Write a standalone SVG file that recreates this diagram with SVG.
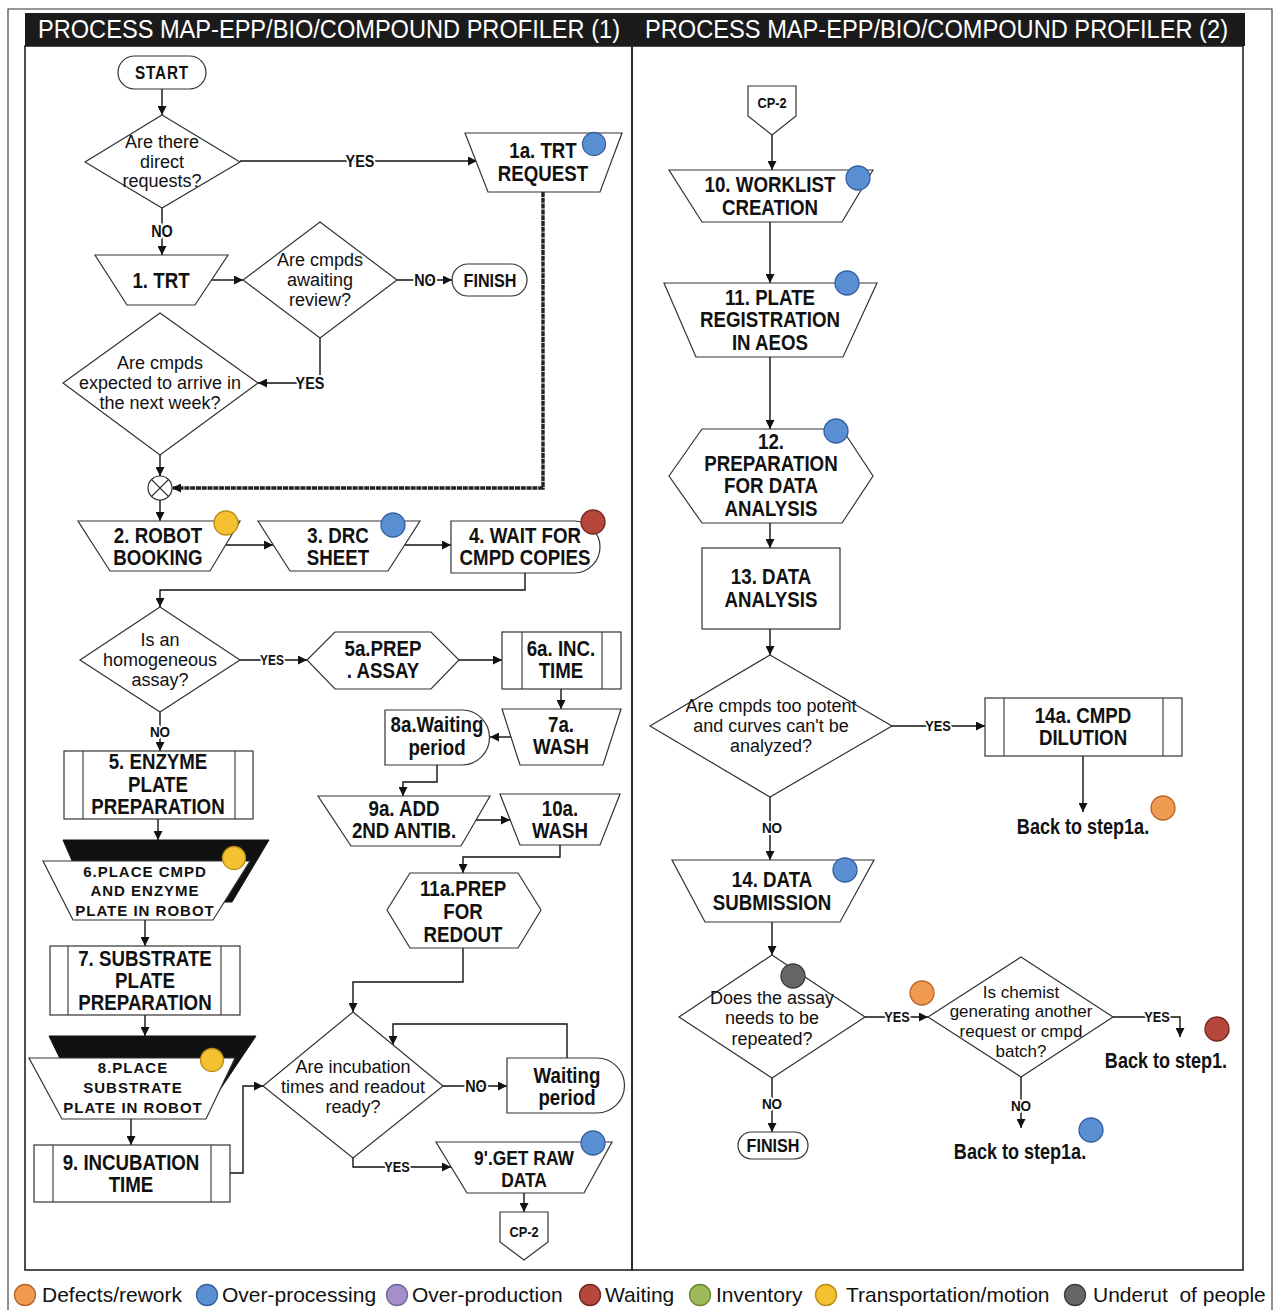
<svg xmlns="http://www.w3.org/2000/svg" width="1275" height="1310" viewBox="0 0 1275 1310">
<defs>
  <marker id="ah" viewBox="0 0 10 10" refX="10" refY="5" markerWidth="10" markerHeight="9" markerUnits="userSpaceOnUse" orient="auto">
    <path d="M0,0 L10,5 L0,10 Z" fill="#111"/>
  </marker>
  <style>
    .frame{fill:none;stroke:#222;stroke-width:1.6}
    .sh{fill:#fff;stroke:#333;stroke-width:1.2}
    .blk{fill:#111;stroke:#111;stroke-width:1}
    .ln{fill:none;stroke:#333;stroke-width:1.1}
    .c{fill:none;stroke:#111;stroke-width:1.4;marker-end:url(#ah)}
    .thick{fill:none;stroke:#222;stroke-width:3.4;stroke-dasharray:5 0.8;marker-end:url(#ah)}
    .hd{font-family:"Liberation Sans",Arial,sans-serif;font-size:25px;fill:#fff}
    .t{font-family:"Liberation Sans",Arial,sans-serif;font-weight:bold;font-size:22px;text-anchor:middle;fill:#111}
    .m{font-family:"Liberation Sans",Arial,sans-serif;font-weight:bold;font-size:15px;letter-spacing:1px;text-anchor:middle;fill:#111}
    .q{font-family:"Liberation Sans",Arial,sans-serif;font-size:18px;text-anchor:middle;fill:#111}
    .lb{font-family:"Liberation Sans",Arial,sans-serif;font-weight:bold;font-size:16px;text-anchor:middle;fill:#111;stroke:#fff;stroke-width:4px;paint-order:stroke;stroke-linejoin:round}
    .cp{font-family:"Liberation Sans",Arial,sans-serif;font-weight:bold;font-size:15px;text-anchor:middle;fill:#111}
    .lg{font-family:"Liberation Sans",Arial,sans-serif;font-size:21px;fill:#111}
    .blue{fill:#5b8fd4;stroke:#34609f;stroke-width:1.3}
    .orange{fill:#ef9a4e;stroke:#b8632a;stroke-width:1.3}
    .yellow{fill:#f4c230;stroke:#b88a10;stroke-width:1.3}
    .red{fill:#b5473c;stroke:#74271f;stroke-width:1.3}
    .gray{fill:#666;stroke:#3d3d3d;stroke-width:1.3}
    .purple{fill:#a58fca;stroke:#74659a;stroke-width:1.3}
    .green{fill:#9cba5a;stroke:#6a8731;stroke-width:1.3}
  </style>
</defs>

<rect width="1275" height="1310" fill="#fff"/>

<!-- outer sheet border and the two panels -->
<g id="frame">
  <path class="ln" d="M8,1310 V9 H1272 V1310" stroke-width="1.3"/>
  <rect x="25" y="13" width="1220" height="33" fill="#1b1b1b"/>
  <text class="hd" x="38" y="38" textLength="582" lengthAdjust="spacingAndGlyphs">PROCESS MAP-EPP/BIO/COMPOUND PROFILER (1)</text>
  <text class="hd" x="645" y="38" textLength="583" lengthAdjust="spacingAndGlyphs">PROCESS MAP-EPP/BIO/COMPOUND PROFILER (2)</text>
  <rect class="frame" x="25" y="46" width="607" height="1224"/>
  <rect class="frame" x="632" y="46" width="611" height="1224"/>
</g>

<!-- connectors -->
<g id="connectors">
  <path class="c" d="M162,89 V115"/>
  <path class="c" d="M240,161 H477"/>
  <path class="c" d="M162,208 V255"/>
  <path class="c" d="M211,280 H243"/>
  <path class="c" d="M397,280 H452"/>
  <path class="c" d="M320,338 V383 H258"/>
  <path class="c" d="M160,455 V476"/>
  <path class="thick" d="M543,192 V488 H172"/>
  <path class="c" d="M160,500 V521"/>
  <path class="c" d="M223,545 H273"/>
  <path class="c" d="M404,545 H451"/>
  <path class="c" d="M525,573 V590 H160 V607"/>
  <path class="c" d="M240,660 H307"/>
  <path class="c" d="M459,660 H502"/>
  <path class="c" d="M561,689 V709"/>
  <path class="c" d="M511,737 H490"/>
  <path class="c" d="M437,765 V782 H403 V796"/>
  <path class="c" d="M475,820 H510"/>
  <path class="c" d="M560,845 V857 H463 V873"/>
  <path class="c" d="M160,712 V751"/>
  <path class="c" d="M158,819 V840"/>
  <path class="c" d="M145,920 V946"/>
  <path class="c" d="M145,1015 V1036"/>
  <path class="c" d="M131,1119 V1145"/>
  <path class="c" d="M230,1173 H243 V1086 H263"/>
  <path class="c" d="M463,948 V982 H353 V1012"/>
  <path class="c" d="M443,1086 H507"/>
  <path class="c" d="M567,1058 V1024 H393 V1045"/>
  <path class="c" d="M353,1158 V1167 H451"/>
  <path class="c" d="M524,1193 V1212"/>

  <path class="c" d="M772,135 V170"/>
  <path class="c" d="M770,222 V283"/>
  <path class="c" d="M770,357 V429"/>
  <path class="c" d="M770,523 V548"/>
  <path class="c" d="M770,629 V655"/>
  <path class="c" d="M892,726 H985"/>
  <path class="c" d="M1083,756 V812"/>
  <path class="c" d="M770,797 V860"/>
  <path class="c" d="M772,922 V955"/>
  <path class="c" d="M865,1017 H928"/>
  <path class="c" d="M1113,1017 H1180 V1037"/>
  <path class="c" d="M1021,1077 V1128"/>
  <path class="c" d="M772,1078 V1132"/>

  <!-- branch labels -->
  <text class="lb" transform="translate(360,0) scale(.9,1)" y="167">YES</text>
  <text class="lb" transform="translate(162,0) scale(.9,1)" y="237">NO</text>
  <text class="lb" transform="translate(425,0) scale(.9,1)" y="286">NO</text>
  <text class="lb" transform="translate(310,0) scale(.9,1)" y="389">YES</text>
  <text class="lb" transform="translate(272,0) scale(.85,1)" y="665" style="font-size:14px">YES</text>
  <text class="lb" transform="translate(160,0) scale(.9,1)" y="737" style="font-size:15px">NO</text>
  <text class="lb" transform="translate(476,0) scale(.9,1)" y="1092">NO</text>
  <text class="lb" transform="translate(397,0) scale(.85,1)" y="1172" style="font-size:15px">YES</text>
  <text class="lb" transform="translate(938,0) scale(.85,1)" y="731" style="font-size:15px">YES</text>
  <text class="lb" transform="translate(772,0) scale(.9,1)" y="833" style="font-size:15px">NO</text>
  <text class="lb" transform="translate(897,0) scale(.85,1)" y="1022" style="font-size:15px">YES</text>
  <text class="lb" transform="translate(1157,0) scale(.85,1)" y="1022" style="font-size:15px">YES</text>
  <text class="lb" transform="translate(1021,0) scale(.9,1)" y="1111" style="font-size:15px">NO</text>
  <text class="lb" transform="translate(772,0) scale(.9,1)" y="1109" style="font-size:15px">NO</text>
</g>

<!-- panel 1 -->
<g id="start">
  <rect class="sh" x="118" y="56" width="88" height="33" rx="16.5"/>
  <text class="t" transform="translate(162,0) scale(.85,1)" y="79" style="font-size:18px;letter-spacing:1px">START</text>
</g>
<g id="q-direct">
  <polygon class="sh" points="162,115 240,162 162,208 85,162"/>
  <text class="q"><tspan x="162" y="148">Are there</tspan><tspan x="162" y="168">direct</tspan><tspan x="162" y="187">requests?</tspan></text>
</g>
<g id="n1a">
  <polygon class="sh" points="465,133 622,133 600,192 488,192"/>
  <text class="t" transform="translate(543,0) scale(.85,1)"><tspan x="0" y="158">1a. TRT</tspan><tspan x="0" y="181">REQUEST</tspan></text>
  <circle class="blue" cx="594" cy="144" r="11.5"/>
</g>
<g id="n1">
  <polygon class="sh" points="95,255 228,255 195,305 127,305"/>
  <text class="t" transform="translate(161,0) scale(.85,1)" y="288">1. TRT</text>
</g>
<g id="q-awaiting">
  <polygon class="sh" points="320,222 397,280 320,338 243,280"/>
  <text class="q"><tspan x="320" y="266">Are cmpds</tspan><tspan x="320" y="286">awaiting</tspan><tspan x="320" y="306">review?</tspan></text>
</g>
<g id="finish1">
  <rect class="sh" x="452" y="264" width="75" height="32" rx="16"/>
  <text class="t" transform="translate(490,0) scale(.85,1)" y="287" style="font-size:19px">FINISH</text>
</g>
<g id="q-expected">
  <polygon class="sh" points="160,313 258,383 160,455 63,383"/>
  <text class="q"><tspan x="160" y="369">Are cmpds</tspan><tspan x="160" y="389">expected to arrive in</tspan><tspan x="160" y="409">the next week?</tspan></text>
</g>
<g id="merge">
  <circle class="sh" cx="160" cy="488" r="12"/>
  <path class="ln" d="M151.5,479.5 L168.5,496.5 M168.5,479.5 L151.5,496.5"/>
</g>
<g id="n2">
  <polygon class="sh" points="78,521 240,521 210,571 110,571"/>
  <text class="t" transform="translate(158,0) scale(.85,1)"><tspan x="0" y="543">2. ROBOT</tspan><tspan x="0" y="565">BOOKING</tspan></text>
  <circle class="yellow" cx="226" cy="523" r="12"/>
</g>
<g id="n3">
  <polygon class="sh" points="258,521 420,521 388,571 290,571"/>
  <text class="t" transform="translate(338,0) scale(.85,1)"><tspan x="0" y="543">3. DRC</tspan><tspan x="0" y="565">SHEET</tspan></text>
  <circle class="blue" cx="393" cy="525" r="12"/>
</g>
<g id="n4">
  <path class="sh" d="M451,521 H574 A26,26 0 0 1 574,573 H451 Z"/>
  <text class="t" transform="translate(525,0) scale(.85,1)"><tspan x="0" y="543">4. WAIT FOR</tspan><tspan x="0" y="565">CMPD COPIES</tspan></text>
  <circle class="red" cx="593" cy="522" r="12"/>
</g>
<g id="q-homogeneous">
  <polygon class="sh" points="160,607 240,660 160,712 80,660"/>
  <text class="q"><tspan x="160" y="646">Is an</tspan><tspan x="160" y="666">homogeneous</tspan><tspan x="160" y="686">assay?</tspan></text>
</g>
<g id="n5a">
  <polygon class="sh" points="307,660 335,632 431,632 459,660 431,689 335,689"/>
  <text class="t" transform="translate(383,0) scale(.85,1)"><tspan x="0" y="656">5a.PREP</tspan><tspan x="0" y="678">. ASSAY</tspan></text>
</g>
<g id="n6a">
  <rect class="sh" x="502" y="632" width="119" height="57"/>
  <path class="ln" d="M522,632 V689 M602,632 V689"/>
  <text class="t" transform="translate(561,0) scale(.85,1)"><tspan x="0" y="656">6a. INC.</tspan><tspan x="0" y="678">TIME</tspan></text>
</g>
<g id="n7a">
  <polygon class="sh" points="502,709 621,709 603,765 520,765"/>
  <text class="t" transform="translate(561,0) scale(.85,1)"><tspan x="0" y="732">7a.</tspan><tspan x="0" y="754">WASH</tspan></text>
</g>
<g id="n8a">
  <path class="sh" d="M385,710 H462 A27.5,27.5 0 0 1 462,765 H385 Z"/>
  <text class="t" transform="translate(437,0) scale(.85,1)"><tspan x="0" y="732">8a.Waiting</tspan><tspan x="0" y="755">period</tspan></text>
</g>
<g id="n9a">
  <polygon class="sh" points="318,796 490,796 461,846 351,846"/>
  <text class="t" transform="translate(404,0) scale(.85,1)"><tspan x="0" y="816">9a. ADD</tspan><tspan x="0" y="838">2ND ANTIB.</tspan></text>
</g>
<g id="n10a">
  <polygon class="sh" points="500,794 620,794 600,845 520,845"/>
  <text class="t" transform="translate(560,0) scale(.85,1)"><tspan x="0" y="816">10a.</tspan><tspan x="0" y="838">WASH</tspan></text>
</g>
<g id="n11a">
  <polygon class="sh" points="387,910 410,873 518,873 541,910 518,948 410,948"/>
  <text class="t" transform="translate(463,0) scale(.85,1)"><tspan x="0" y="896">11a.PREP</tspan><tspan x="0" y="919">FOR</tspan><tspan x="0" y="942">REDOUT</tspan></text>
</g>
<g id="n5">
  <rect class="sh" x="64" y="751" width="189" height="68"/>
  <path class="ln" d="M83,751 V819 M235,751 V819"/>
  <text class="t" transform="translate(158,0) scale(.85,1)"><tspan x="0" y="769">5. ENZYME</tspan><tspan x="0" y="792">PLATE</tspan><tspan x="0" y="814">PREPARATION</tspan></text>
</g>
<g id="n6">
  <polygon class="blk" points="63,840 269,840 232,902 90,902"/>
  <polygon class="sh" points="43,861 250,861 213,920 73,920"/>
  <text class="m"><tspan x="145" y="877">6.PLACE CMPD</tspan><tspan x="145" y="896">AND ENZYME</tspan><tspan x="145" y="916">PLATE IN ROBOT</tspan></text>
  <circle class="yellow" cx="234" cy="858" r="11.5"/>
</g>
<g id="n7">
  <rect class="sh" x="50" y="946" width="190" height="69"/>
  <path class="ln" d="M68,946 V1015 M221,946 V1015"/>
  <text class="t" transform="translate(145,0) scale(.85,1)"><tspan x="0" y="966">7. SUBSTRATE</tspan><tspan x="0" y="988">PLATE</tspan><tspan x="0" y="1010">PREPARATION</tspan></text>
</g>
<g id="n8">
  <polygon class="blk" points="49,1036 256,1036 213,1100 80,1100"/>
  <polygon class="sh" points="29,1058 235,1058 206,1119 62,1119"/>
  <text class="m"><tspan x="133" y="1073">8.PLACE</tspan><tspan x="133" y="1093">SUBSTRATE</tspan><tspan x="133" y="1113">PLATE IN ROBOT</tspan></text>
  <circle class="yellow" cx="212" cy="1060" r="11.5"/>
</g>
<g id="n9">
  <rect class="sh" x="34" y="1145" width="196" height="57"/>
  <path class="ln" d="M53,1145 V1202 M211,1145 V1202"/>
  <text class="t" transform="translate(131,0) scale(.85,1)"><tspan x="0" y="1170">9. INCUBATION</tspan><tspan x="0" y="1192">TIME</tspan></text>
</g>
<g id="q-incubation">
  <polygon class="sh" points="353,1012 443,1086 353,1158 263,1086"/>
  <text class="q"><tspan x="353" y="1073">Are incubation</tspan><tspan x="353" y="1093">times and readout</tspan><tspan x="353" y="1113">ready?</tspan></text>
</g>
<g id="n-waiting">
  <path class="sh" d="M507,1058 H597 A27.5,27.5 0 0 1 597,1113 H507 Z"/>
  <text class="t" transform="translate(567,0) scale(.85,1)"><tspan x="0" y="1083">Waiting</tspan><tspan x="0" y="1105">period</tspan></text>
</g>
<g id="n9p">
  <polygon class="sh" points="436,1142 612,1142 584,1193 467,1193"/>
  <text class="t" transform="translate(524,0) scale(.87,1)" style="font-size:20px"><tspan x="0" y="1165">9'.GET RAW</tspan><tspan x="0" y="1187">DATA</tspan></text>
  <circle class="blue" cx="593" cy="1143" r="12"/>
</g>
<g id="cp2-out">
  <polygon class="sh" points="500,1212 548,1212 548,1242 524,1260 500,1242"/>
  <text class="cp" transform="translate(524,0) scale(.85,1)" y="1237">CP-2</text>
</g>

<!-- panel 2 -->
<g id="cp2-in">
  <polygon class="sh" points="748,86 796,86 796,116 772,135 748,116"/>
  <text class="cp" transform="translate(772,0) scale(.85,1)" y="108">CP-2</text>
</g>
<g id="n10">
  <polygon class="sh" points="669,170 873,170 842,222 702,222"/>
  <text class="t" transform="translate(770,0) scale(.85,1)"><tspan x="0" y="192">10. WORKLIST</tspan><tspan x="0" y="215">CREATION</tspan></text>
  <circle class="blue" cx="858" cy="178" r="12"/>
</g>
<g id="n11">
  <polygon class="sh" points="664,283 877,283 843,357 696,357"/>
  <text class="t" transform="translate(770,0) scale(.85,1)"><tspan x="0" y="305">11. PLATE</tspan><tspan x="0" y="327">REGISTRATION</tspan><tspan x="0" y="350">IN AEOS</tspan></text>
  <circle class="blue" cx="847" cy="283" r="12"/>
</g>
<g id="n12">
  <polygon class="sh" points="669,476 702,429 842,429 873,476 842,523 702,523"/>
  <text class="t" transform="translate(771,0) scale(.85,1)"><tspan x="0" y="449">12.</tspan><tspan x="0" y="471">PREPARATION</tspan><tspan x="0" y="493">FOR DATA</tspan><tspan x="0" y="516">ANALYSIS</tspan></text>
  <circle class="blue" cx="836" cy="431" r="12"/>
</g>
<g id="n13">
  <rect class="sh" x="702" y="548" width="138" height="81"/>
  <text class="t" transform="translate(771,0) scale(.85,1)"><tspan x="0" y="584">13. DATA</tspan><tspan x="0" y="607">ANALYSIS</tspan></text>
</g>
<g id="q-potent">
  <polygon class="sh" points="770,655 892,726 770,797 650,726"/>
  <text class="q"><tspan x="771" y="712">Are cmpds too potent</tspan><tspan x="771" y="732">and curves can't be</tspan><tspan x="771" y="752">analyzed?</tspan></text>
</g>
<g id="n14a">
  <rect class="sh" x="985" y="698" width="197" height="58"/>
  <path class="ln" d="M1004,698 V756 M1163,698 V756"/>
  <text class="t" transform="translate(1083,0) scale(.85,1)"><tspan x="0" y="723">14a. CMPD</tspan><tspan x="0" y="745">DILUTION</tspan></text>
</g>
<g id="back-1a-top">
  <text class="t" transform="translate(1083,0) scale(.82,1)" y="834">Back to step1a.</text>
  <circle class="orange" cx="1163" cy="808" r="12"/>
</g>
<g id="n14">
  <polygon class="sh" points="672,860 874,860 840,922 705,922"/>
  <text class="t" transform="translate(772,0) scale(.85,1)"><tspan x="0" y="887">14. DATA</tspan><tspan x="0" y="910">SUBMISSION</tspan></text>
  <circle class="blue" cx="845" cy="870" r="12"/>
</g>
<g id="q-repeat">
  <polygon class="sh" points="772,955 865,1017 772,1078 679,1017"/>
  <text class="q"><tspan x="772" y="1004">Does the assay</tspan><tspan x="772" y="1024">needs to be</tspan><tspan x="772" y="1045">repeated?</tspan></text>
  <circle class="gray" cx="793" cy="976" r="12"/>
</g>
<circle class="orange" cx="922" cy="993" r="12"/>
<g id="q-chemist">
  <polygon class="sh" points="1021,957 1113,1017 1021,1077 928,1017"/>
  <text class="q" style="font-size:17px"><tspan x="1021" y="998">Is chemist</tspan><tspan x="1021" y="1017">generating another</tspan><tspan x="1021" y="1037">request or cmpd</tspan><tspan x="1021" y="1057">batch?</tspan></text>
</g>
<g id="back-1">
  <text class="t" transform="translate(1166,0) scale(.82,1)" y="1068">Back to step1.</text>
  <circle class="red" cx="1217" cy="1029" r="12"/>
</g>
<g id="back-1a-bottom">
  <text class="t" transform="translate(1020,0) scale(.82,1)" y="1159">Back to step1a.</text>
  <circle class="blue" cx="1091" cy="1130" r="12"/>
</g>
<g id="finish2">
  <rect class="sh" x="738" y="1132" width="70" height="27" rx="13.5"/>
  <text class="t" transform="translate(773,0) scale(.85,1)" y="1152" style="font-size:19px">FINISH</text>
</g>

<!-- legend -->
<g id="legend">
  <circle class="orange" cx="25" cy="1295" r="10.5"/>
  <text class="lg" x="42" y="1302">Defects/rework</text>
  <circle class="blue" cx="207" cy="1295" r="10.5"/>
  <text class="lg" x="222" y="1302">Over-processing</text>
  <circle class="purple" cx="397" cy="1295" r="10.5"/>
  <text class="lg" x="412" y="1302">Over-production</text>
  <circle class="red" cx="590" cy="1295" r="10.5"/>
  <text class="lg" x="605" y="1302">Waiting</text>
  <circle class="green" cx="700" cy="1295" r="10.5"/>
  <text class="lg" x="716" y="1302">Inventory</text>
  <circle class="yellow" cx="826" cy="1295" r="10.5"/>
  <text class="lg" x="846" y="1302">Transportation/motion</text>
  <circle class="gray" cx="1075" cy="1295" r="10.5"/>
  <text class="lg" x="1093" y="1302" xml:space="preserve">Underut  of people</text>
</g>
</svg>
